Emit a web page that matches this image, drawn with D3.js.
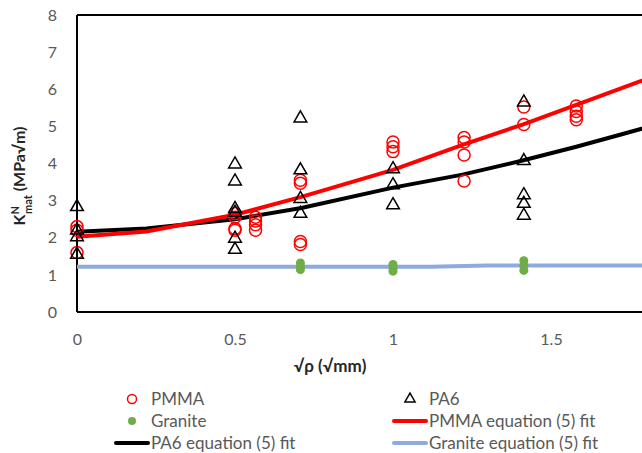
<!DOCTYPE html>
<html>
<head>
<meta charset="utf-8">
<script src="https://cdn.jsdelivr.net/npm/d3@7"></script>
<style>
  html, body { margin: 0; padding: 0; background: #fff; }
  svg { display: block; }
  text { font-family: Lato, "Liberation Sans", sans-serif; }
</style>
</head>
<body>
<svg id="chart" width="642" height="453"></svg>
<script>
// Measured notch toughness vs. square root of notch radius
const pmmaX = [0, 0, 0, 0.5, 0.5, 0.5, 0.5, 0.565, 0.565, 0.565, 0.565, 0.707, 0.707, 0.707, 0.707, 1, 1, 1, 1.225, 1.225, 1.225, 1.225, 1.414, 1.414, 1.58, 1.58, 1.58, 1.58];
const pmmaY = [2.3, 2.2, 1.6, 2.65, 2.55, 2.25, 2.2, 2.55, 2.45, 2.35, 2.2, 3.55, 3.47, 1.9, 1.82, 4.58, 4.45, 4.32, 4.7, 4.58, 4.23, 3.53, 5.52, 5.05, 5.55, 5.4, 5.27, 5.18];

const pa6X = [0, 0, 0, 0, 0.5, 0.5, 0.5, 0.5, 0.5, 0.5, 0.707, 0.707, 0.707, 0.707, 1, 1, 1, 1.414, 1.414, 1.414, 1.414, 1.414];
const pa6Y = [2.83, 2.2, 2.02, 1.55, 3.98, 3.52, 2.78, 2.68, 1.98, 1.68, 5.22, 3.82, 3.05, 2.65, 3.85, 3.42, 2.88, 5.65, 4.07, 3.15, 2.92, 2.6];

const graniteX = [0.707, 0.707, 0.707, 1, 1, 1, 1.414, 1.414, 1.414];
const graniteY = [1.32, 1.22, 1.14, 1.28, 1.18, 1.1, 1.38, 1.25, 1.12];

// Equation (5) fits
const fitX = [0, 0.22, 0.5, 0.71, 1, 1.22, 1.41, 1.58, 1.73, 2];
const pmmaFit = [2.03, 2.17, 2.62, 3.1, 3.83, 4.5, 5.05, 5.58, 6.05, 6.9];
const pa6Fit = [2.16, 2.25, 2.5, 2.8, 3.35, 3.7, 4.08, 4.45, 4.8, 5.45];
const graniteFitX = [0, 0.5, 0.71, 1, 1.12, 1.3, 1.41, 1.58, 2];
const graniteFit = [1.22, 1.22, 1.22, 1.22, 1.22, 1.25, 1.25, 1.25, 1.25];

const xTicks = [0, 0.5, 1, 1.5];
const yTicks = [0, 1, 2, 3, 4, 5, 6, 7, 8];

const svg = d3.select("#chart");
const plotLeft = 77, plotTop = 15, plotBottom = 312;

const x = d3.scaleLinear().domain([0, 2]).range([plotLeft, plotLeft + 632]);
const y = d3.scaleLinear().domain([0, 8]).range([plotBottom, plotTop]);

// Plot frame
svg.append("line").attr("x1", plotLeft).attr("x2", 642).attr("y1", plotTop).attr("y2", plotTop)
  .attr("stroke", "#000").attr("stroke-width", 2);
svg.append("line").attr("x1", plotLeft).attr("x2", 642).attr("y1", plotBottom).attr("y2", plotBottom)
  .attr("stroke", "#000").attr("stroke-width", 2);
svg.append("line").attr("x1", plotLeft).attr("x2", plotLeft).attr("y1", plotTop).attr("y2", plotBottom)
  .attr("stroke", "#000").attr("stroke-width", 2);

// Axes (labels only)
const yAxis = d3.axisLeft(y).tickValues(yTicks).tickSize(0).tickPadding(20).tickFormat(d3.format("d"));
svg.append("g").attr("transform", `translate(${plotLeft},0)`).call(yAxis)
  .call(g => g.select(".domain").remove())
  .selectAll("text").attr("font-size", 16).attr("fill", "#595959")
  .style("font-family", "Lato, 'Liberation Sans', sans-serif");

const xAxis = d3.axisBottom(x).tickValues(xTicks).tickSize(0).tickPadding(22).tickFormat(d => d3.format("")(d));
svg.append("g").attr("transform", `translate(0,${plotBottom})`).call(xAxis)
  .call(g => g.select(".domain").remove())
  .selectAll("text").attr("font-size", 16).attr("fill", "#595959")
  .style("font-family", "Lato, 'Liberation Sans', sans-serif");

// Axis titles
svg.append("text").attr("x", 330).attr("y", 372).attr("text-anchor", "middle")
  .attr("font-size", 17).attr("font-weight", "bold").attr("fill", "#262626")
  .text("√ρ (√mm)");

const yt = svg.append("text").attr("transform", "translate(25,176) rotate(-90)")
  .attr("text-anchor", "middle").attr("font-size", 16).attr("font-weight", "bold").attr("fill", "#262626");
yt.append("tspan").text("K");
yt.append("tspan").attr("baseline-shift", "super").attr("font-size", 11).text("N");
yt.append("tspan").attr("baseline-shift", "sub").attr("font-size", 11).attr("dx", -8).text("mat");
yt.append("tspan").text(" (MPa√m)");

// Fit lines
const plot = svg.append("g");
const line = d3.line().x(d => x(d[0])).y(d => y(d[1]));
plot.append("path").datum(d3.zip(graniteFitX, graniteFit)).attr("d", line)
  .attr("fill", "none").attr("stroke", "#8faadc").attr("stroke-width", 4);
plot.append("path").datum(d3.zip(fitX, pa6Fit)).attr("d", line)
  .attr("fill", "none").attr("stroke", "#000").attr("stroke-width", 4);
plot.append("path").datum(d3.zip(fitX, pmmaFit)).attr("d", line)
  .attr("fill", "none").attr("stroke", "#ff0000").attr("stroke-width", 4);

// Markers
const tri = d3.symbol().type(d3.symbolTriangle).size(70);
plot.selectAll(".pmma").data(d3.zip(pmmaX, pmmaY)).join("circle")
  .attr("cx", d => x(d[0])).attr("cy", d => y(d[1])).attr("r", 6)
  .attr("fill", "none").attr("stroke", "#ff0000").attr("stroke-width", 1.5);
plot.selectAll(".pa6").data(d3.zip(pa6X, pa6Y)).join("path")
  .attr("d", tri).attr("transform", d => `translate(${x(d[0])},${y(d[1])})`)
  .attr("fill", "none").attr("stroke", "#000").attr("stroke-width", 1.5);
plot.selectAll(".granite").data(d3.zip(graniteX, graniteY)).join("circle")
  .attr("cx", d => x(d[0])).attr("cy", d => y(d[1])).attr("r", 4.5)
  .attr("fill", "#70ad47");

// Legend
const legendItems = [
  { label: "PMMA", kind: "circle", col: 0, row: 0 },
  { label: "PA6", kind: "triangle", col: 1, row: 0 },
  { label: "Granite", kind: "dot", col: 0, row: 1 },
  { label: "PMMA equation (5) fit", kind: "line", color: "#ff0000", col: 1, row: 1 },
  { label: "PA6 equation (5) fit", kind: "line", color: "#000", col: 0, row: 2 },
  { label: "Granite equation (5) fit", kind: "line", color: "#8faadc", col: 1, row: 2 }
];
const colX = [132, 410];
const rowY = [399, 421, 443];
const lg = svg.append("g");
legendItems.forEach(it => {
  const cx = colX[it.col], cy = rowY[it.row];
  if (it.kind === "circle") {
    lg.append("circle").attr("cx", cx).attr("cy", cy).attr("r", 4.5)
      .attr("fill", "none").attr("stroke", "#ff0000").attr("stroke-width", 1.5);
  } else if (it.kind === "triangle") {
    lg.append("path").attr("d", d3.symbol().type(d3.symbolTriangle).size(45))
      .attr("transform", `translate(${cx},${cy})`)
      .attr("fill", "none").attr("stroke", "#000").attr("stroke-width", 1.5);
  } else if (it.kind === "dot") {
    lg.append("circle").attr("cx", cx).attr("cy", cy).attr("r", 4).attr("fill", "#70ad47");
  } else {
    lg.append("line").attr("x1", cx - 16).attr("x2", cx + 16).attr("y1", cy).attr("y2", cy)
      .attr("stroke", it.color).attr("stroke-width", 4).attr("stroke-linecap", "round");
  }
  lg.append("text").attr("x", cx + 19).attr("y", cy).attr("dy", "0.35em")
    .attr("font-size", 17).attr("fill", "#595959").text(it.label);
});
</script>
</body>
</html>
